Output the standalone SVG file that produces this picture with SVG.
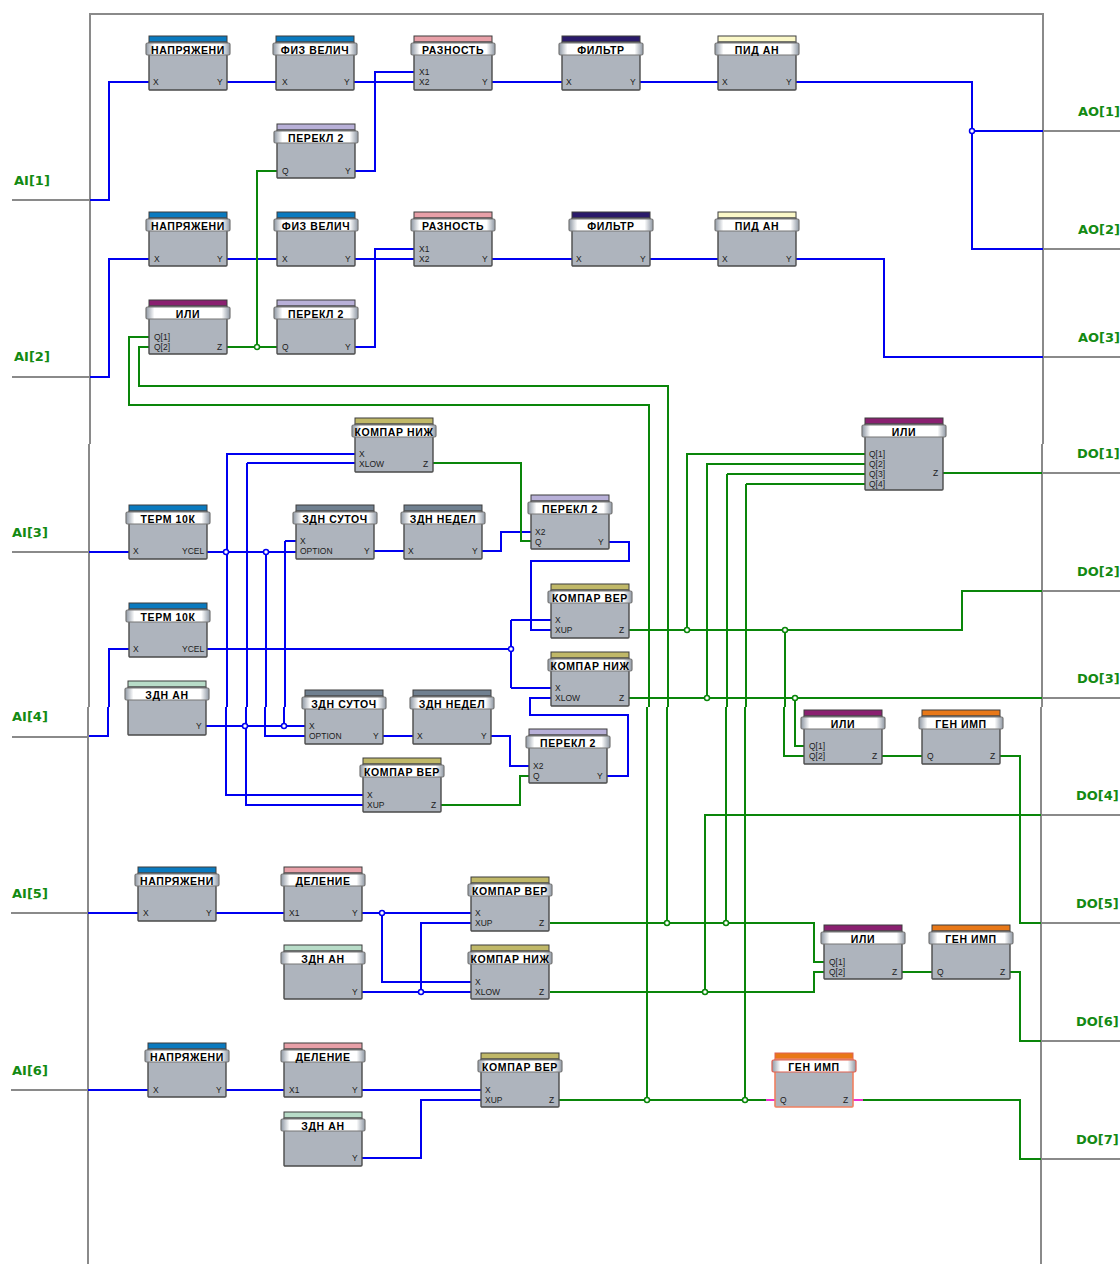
<svg xmlns="http://www.w3.org/2000/svg" width="1120" height="1264" viewBox="0 0 1120 1264">
<style>
.w{fill:none;stroke-width:2}
.b{stroke:#0000f0}.g{stroke:#0a860a}.f{stroke:#8a8a8a}.m{stroke:#f030d0}
.jb,.jg{fill:#fff;stroke-width:1.5}.jb{stroke:#0000f0}.jg{stroke:#0a860a}
g[transform]>rect{stroke:#3c3c3c;stroke-width:1}
.body{fill:#aeb4bd;stroke:#4a4a4a;stroke-width:1.4}
.band{fill:url(#bg);stroke:#777;stroke-width:1.2}
.t{font:bold 10.5px "Liberation Sans",Arial,sans-serif;text-anchor:middle;fill:#000;letter-spacing:.6px}
.p{font:8.5px "Liberation Sans",Arial,sans-serif;fill:#1c1c1c}
.l{font:bold 13px "DejaVu Sans",sans-serif;fill:#138a13}
.selbody{fill:#aeb4bd;stroke:#f08060;stroke-width:1.6}
</style>
<defs>
<linearGradient id="bg" x1="0" x2="1" y1="0" y2="0">
<stop offset="0" stop-color="#8e97a3"/><stop offset=".1" stop-color="#fff"/><stop offset=".9" stop-color="#fff"/><stop offset="1" stop-color="#8e97a3"/>
</linearGradient>
<g id="n">
<rect class="body" x="0" y="6" width="78" height="48" rx="1"/>
<rect class="band" x="-3" y="7" width="84" height="12" rx="1.5"/>
</g>
<g id="nt">
<rect class="body" x="0" y="6" width="78" height="66" rx="1"/>
<rect class="band" x="-3" y="7" width="84" height="12" rx="1.5"/>
</g>
<g id="ns">
<rect class="selbody" x="0" y="6" width="78" height="48" rx="1"/>
<rect class="band" x="-3" y="7" width="84" height="12" rx="1.5" style="stroke:#e06050"/>
</g>
</defs>
<g id="frame">
<path class="w f" d="M12 200H90M12 377H90M12 552H89M12 737H89M11 913H88M11 1090H88M1043 131H1120M1043 249H1120M1043 357H1120M1042 473H1120M1042 591H1120M1042 698H1120M1041 815H1120M1041 923H1120M1041 1041H1120M1041 1159H1120"/>
<path class="w f" d="M90 14H1043V444M90 13V444M89 444V707M88 707V1264M1042 444V707M1041 707V1264"/>
</g>
<g id="connectors">
<path class="w b" d="M90 200H109V82H149M227 82H276M354 82H414M354 171H375V72H414M492 82H562M640 82H718M796 82H972V249H1043M972 131H1043"/>
<path class="w b" d="M90 377H109V259H149M227 259H277M355 259H414M355 347H375V249H414M492 259H572M650 259H718M796 259H884V357H1043"/>
<path class="w b" d="M89 552H129M207 552H296M227 552V454H355M227 552V707M226 707V795H363M266 552V707M265 707V736H305M247 463H355M247 463V707M246 707V805H363M285 541H296M285 541V707M284 707V726M206 726H305M374 551H404M482 551H501V532H531M609 542H629V561H531V630H551M89 736H108V707M109 707V649H129M207 649H511M511 620V688M511 620H551M511 688H551M551 698H530V715H628V776H607M383 736H413M491 736H510V766H529"/>
<path class="w b" d="M88 913H138M216 913H284M362 913H471M382 913V982H471M362 992H471M421 992V923H471M88 1090H148M226 1090H284M362 1090H481M362 1158H421V1100H481"/>
<path class="w g" d="M277 171H257V347M227 347H277M149 337H129V405H649V707M647 707V1100M149 347H139V386H668V707M667 707V923"/>
<path class="w g" d="M433 463H521V541H531M441 805H520V776H529M629 630H962V591H1042M629 698H1042M943 473H1042M687 630V454H865M707 698V464H865M727 474H865M727 474V707M726 707V923M746 484H865M746 484V707M745 707V1100M785 630V707M784 707V756H804M795 698V746H804M705 992V815H1041M882 756H922M1000 756H1020V923H1041"/>
<path class="w g" d="M550 923H814V962H824M550 992H814V972H824M902 972H932M1010 972H1020V1041H1041M559 1100H766M863 1100H1020V1159H1041"/>
<path class="w m" d="M766 1100H775M853 1100H863"/>
<g class="jb"><circle cx="972" cy="131" r="2.5"/><circle cx="226" cy="552" r="2.5"/><circle cx="266" cy="552" r="2.5"/><circle cx="511" cy="649" r="2.5"/><circle cx="245" cy="726" r="2.5"/><circle cx="284" cy="726" r="2.5"/><circle cx="382" cy="913" r="2.5"/><circle cx="421" cy="992" r="2.5"/></g>
<g class="jg"><circle cx="257" cy="347" r="2.5"/><circle cx="687" cy="630" r="2.5"/><circle cx="785" cy="630" r="2.5"/><circle cx="707" cy="698" r="2.5"/><circle cx="795" cy="698" r="2.5"/><circle cx="667" cy="923" r="2.5"/><circle cx="726" cy="923" r="2.5"/><circle cx="705" cy="992" r="2.5"/><circle cx="647" cy="1100" r="2.5"/><circle cx="745" cy="1100" r="2.5"/></g>
</g>
<g id="labels">
<text class="l" x="14" y="185">AI[1]</text><text class="l" x="14" y="361">AI[2]</text><text class="l" x="12" y="537">AI[3]</text><text class="l" x="12" y="721">AI[4]</text><text class="l" x="12" y="898">AI[5]</text><text class="l" x="12" y="1075">AI[6]</text>
<text class="l" x="1078" y="116">AO[1]</text><text class="l" x="1078" y="234">AO[2]</text><text class="l" x="1078" y="342">AO[3]</text>
<text class="l" x="1077" y="458">DO[1]</text><text class="l" x="1077" y="576">DO[2]</text><text class="l" x="1077" y="683">DO[3]</text><text class="l" x="1076" y="800">DO[4]</text><text class="l" x="1076" y="908">DO[5]</text><text class="l" x="1076" y="1026">DO[6]</text><text class="l" x="1076" y="1144">DO[7]</text>
</g>
<g id="n1" transform="translate(149 36)"><rect width="78" height="10" fill="#0a7abf"/><use href="#n"/><text class="t" x="39" y="17.5">НАПРЯЖЕНИ</text><text class="p" x="4" y="49">X</text><text class="p" x="68" y="49">Y</text></g>
<g id="n2" transform="translate(276 36)"><rect width="78" height="10" fill="#0a7abf"/><use href="#n"/><text class="t" x="39" y="17.5">ФИЗ ВЕЛИЧ</text><text class="p" x="6" y="49">X</text><text class="p" x="68" y="49">Y</text></g>
<g id="n3" transform="translate(414 36)"><rect width="78" height="10" fill="#e8a0a8"/><use href="#n"/><text class="t" x="39" y="17.5">РАЗНОСТЬ</text><text class="p" x="5" y="39">X1</text><text class="p" x="5" y="49">X2</text><text class="p" x="68" y="49">Y</text></g>
<g id="n4" transform="translate(562 36)"><rect width="78" height="10" fill="#2a1a6a"/><use href="#n"/><text class="t" x="39" y="17.5">ФИЛЬТР</text><text class="p" x="4" y="49">X</text><text class="p" x="68" y="49">Y</text></g>
<g id="n5" transform="translate(718 36)"><rect width="78" height="10" fill="#fbf8c8"/><use href="#n"/><text class="t" x="39" y="17.5">ПИД АН</text><text class="p" x="4" y="49">X</text><text class="p" x="68" y="49">Y</text></g>
<g id="n6" transform="translate(277 124)"><rect width="78" height="10" fill="#b8b0d8"/><use href="#n"/><text class="t" x="39" y="17.5">ПЕРЕКЛ 2</text><text class="p" x="5" y="50">Q</text><text class="p" x="68" y="50">Y</text></g>
<g id="n7" transform="translate(149 212)"><rect width="78" height="10" fill="#0a7abf"/><use href="#n"/><text class="t" x="39" y="17.5">НАПРЯЖЕНИ</text><text class="p" x="5" y="50">X</text><text class="p" x="68" y="50">Y</text></g>
<g id="n8" transform="translate(277 212)"><rect width="78" height="10" fill="#0a7abf"/><use href="#n"/><text class="t" x="39" y="17.5">ФИЗ ВЕЛИЧ</text><text class="p" x="5" y="50">X</text><text class="p" x="68" y="50">Y</text></g>
<g id="n9" transform="translate(414 212)"><rect width="78" height="10" fill="#e8a0a8"/><use href="#n"/><text class="t" x="39" y="17.5">РАЗНОСТЬ</text><text class="p" x="5" y="40">X1</text><text class="p" x="5" y="50">X2</text><text class="p" x="68" y="50">Y</text></g>
<g id="n10" transform="translate(572 212)"><rect width="78" height="10" fill="#2a1a6a"/><use href="#n"/><text class="t" x="39" y="17.5">ФИЛЬТР</text><text class="p" x="4" y="50">X</text><text class="p" x="68" y="50">Y</text></g>
<g id="n11" transform="translate(718 212)"><rect width="78" height="10" fill="#fbf8c8"/><use href="#n"/><text class="t" x="39" y="17.5">ПИД АН</text><text class="p" x="4" y="50">X</text><text class="p" x="68" y="50">Y</text></g>
<g id="n12" transform="translate(149 300)"><rect width="78" height="10" fill="#8a2070"/><use href="#n"/><text class="t" x="39" y="17.5">ИЛИ</text><text class="p" x="5" y="40">Q[1]</text><text class="p" x="5" y="50">Q[2]</text><text class="p" x="68" y="50">Z</text></g>
<g id="n13" transform="translate(277 300)"><rect width="78" height="10" fill="#b8b0d8"/><use href="#n"/><text class="t" x="39" y="17.5">ПЕРЕКЛ 2</text><text class="p" x="5" y="50">Q</text><text class="p" x="68" y="50">Y</text></g>
<g id="n14" transform="translate(355 418)"><rect width="78" height="10" fill="#c0b868"/><use href="#n"/><text class="t" x="39" y="17.5">КОМПАР НИЖ</text><text class="p" x="4" y="39">X</text><text class="p" x="4" y="49">XLOW</text><text class="p" x="68" y="49">Z</text></g>
<g id="n15" transform="translate(129 505)"><rect width="78" height="10" fill="#0a7abf"/><use href="#n"/><text class="t" x="39" y="17.5">ТЕРМ 10К</text><text class="p" x="4" y="49">X</text><text class="p" x="53" y="49">YCEL</text></g>
<g id="n16" transform="translate(296 505)"><rect width="78" height="10" fill="#708090"/><use href="#n"/><text class="t" x="39" y="17.5">ЗДН СУТОЧ</text><text class="p" x="4" y="39">X</text><text class="p" x="4" y="49">OPTION</text><text class="p" x="68" y="49">Y</text></g>
<g id="n17" transform="translate(404 505)"><rect width="78" height="10" fill="#708090"/><use href="#n"/><text class="t" x="39" y="17.5">ЗДН НЕДЕЛ</text><text class="p" x="4" y="49">X</text><text class="p" x="68" y="49">Y</text></g>
<g id="n18" transform="translate(531 495)"><rect width="78" height="10" fill="#b8b0d8"/><use href="#n"/><text class="t" x="39" y="17.5">ПЕРЕКЛ 2</text><text class="p" x="4" y="40">X2</text><text class="p" x="4" y="50">Q</text><text class="p" x="67" y="50">Y</text></g>
<g id="n19" transform="translate(551 584)"><rect width="78" height="10" fill="#c0b868"/><use href="#n"/><text class="t" x="39" y="17.5">КОМПАР ВЕР</text><text class="p" x="4" y="39">X</text><text class="p" x="4" y="49">XUP</text><text class="p" x="68" y="49">Z</text></g>
<g id="n20" transform="translate(551 652)"><rect width="78" height="10" fill="#c0b868"/><use href="#n"/><text class="t" x="39" y="17.5">КОМПАР НИЖ</text><text class="p" x="4" y="39">X</text><text class="p" x="4" y="49">XLOW</text><text class="p" x="68" y="49">Z</text></g>
<g id="n21" transform="translate(865 418)"><rect width="78" height="10" fill="#8a2070"/><use href="#nt"/><text class="t" x="39" y="17.5">ИЛИ</text><text class="p" x="4" y="39">Q[1]</text><text class="p" x="4" y="49">Q[2]</text><text class="p" x="4" y="59">Q[3]</text><text class="p" x="4" y="69">Q[4]</text><text class="p" x="68" y="58">Z</text></g>
<g id="n22" transform="translate(129 603)"><rect width="78" height="10" fill="#0a7abf"/><use href="#n"/><text class="t" x="39" y="17.5">ТЕРМ 10К</text><text class="p" x="4" y="49">X</text><text class="p" x="53" y="49">YCEL</text></g>
<g id="n23" transform="translate(128 681)"><rect width="78" height="10" fill="#b8dcc8"/><use href="#n"/><text class="t" x="39" y="17.5">ЗДН АН</text><text class="p" x="68" y="48">Y</text></g>
<g id="n24" transform="translate(305 690)"><rect width="78" height="10" fill="#708090"/><use href="#n"/><text class="t" x="39" y="17.5">ЗДН СУТОЧ</text><text class="p" x="4" y="39">X</text><text class="p" x="4" y="49">OPTION</text><text class="p" x="68" y="49">Y</text></g>
<g id="n25" transform="translate(413 690)"><rect width="78" height="10" fill="#708090"/><use href="#n"/><text class="t" x="39" y="17.5">ЗДН НЕДЕЛ</text><text class="p" x="4" y="49">X</text><text class="p" x="68" y="49">Y</text></g>
<g id="n26" transform="translate(363 758)"><rect width="78" height="10" fill="#c0b868"/><use href="#n"/><text class="t" x="39" y="17.5">КОМПАР ВЕР</text><text class="p" x="4" y="40">X</text><text class="p" x="4" y="50">XUP</text><text class="p" x="68" y="50">Z</text></g>
<g id="n27" transform="translate(529 729)"><rect width="78" height="10" fill="#b8b0d8"/><use href="#n"/><text class="t" x="39" y="17.5">ПЕРЕКЛ 2</text><text class="p" x="4" y="40">X2</text><text class="p" x="4" y="50">Q</text><text class="p" x="68" y="50">Y</text></g>
<g id="n28" transform="translate(804 710)"><rect width="78" height="10" fill="#8a2070"/><use href="#n"/><text class="t" x="39" y="17.5">ИЛИ</text><text class="p" x="5" y="39">Q[1]</text><text class="p" x="5" y="49">Q[2]</text><text class="p" x="68" y="49">Z</text></g>
<g id="n29" transform="translate(922 710)"><rect width="78" height="10" fill="#e87818"/><use href="#n"/><text class="t" x="39" y="17.5">ГЕН ИМП</text><text class="p" x="5" y="49">Q</text><text class="p" x="68" y="49">Z</text></g>
<g id="n30" transform="translate(138 867)"><rect width="78" height="10" fill="#0a7abf"/><use href="#n"/><text class="t" x="39" y="17.5">НАПРЯЖЕНИ</text><text class="p" x="5" y="49">X</text><text class="p" x="68" y="49">Y</text></g>
<g id="n31" transform="translate(284 867)"><rect width="78" height="10" fill="#e8a0a8"/><use href="#n"/><text class="t" x="39" y="17.5">ДЕЛЕНИЕ</text><text class="p" x="5" y="49">X1</text><text class="p" x="68" y="49">Y</text></g>
<g id="n32" transform="translate(471 877)"><rect width="78" height="10" fill="#c0b868"/><use href="#n"/><text class="t" x="39" y="17.5">КОМПАР ВЕР</text><text class="p" x="4" y="39">X</text><text class="p" x="4" y="49">XUP</text><text class="p" x="68" y="49">Z</text></g>
<g id="n33" transform="translate(284 945)"><rect width="78" height="10" fill="#b8dcc8"/><use href="#n"/><text class="t" x="39" y="17.5">ЗДН АН</text><text class="p" x="68" y="50">Y</text></g>
<g id="n34" transform="translate(471 945)"><rect width="78" height="10" fill="#c0b868"/><use href="#n"/><text class="t" x="39" y="17.5">КОМПАР НИЖ</text><text class="p" x="4" y="40">X</text><text class="p" x="4" y="50">XLOW</text><text class="p" x="68" y="50">Z</text></g>
<g id="n35" transform="translate(824 925)"><rect width="78" height="10" fill="#8a2070"/><use href="#n"/><text class="t" x="39" y="17.5">ИЛИ</text><text class="p" x="5" y="40">Q[1]</text><text class="p" x="5" y="50">Q[2]</text><text class="p" x="68" y="50">Z</text></g>
<g id="n36" transform="translate(932 925)"><rect width="78" height="10" fill="#e87818"/><use href="#n"/><text class="t" x="39" y="17.5">ГЕН ИМП</text><text class="p" x="5" y="50">Q</text><text class="p" x="68" y="50">Z</text></g>
<g id="n37" transform="translate(148 1043)"><rect width="78" height="10" fill="#0a7abf"/><use href="#n"/><text class="t" x="39" y="17.5">НАПРЯЖЕНИ</text><text class="p" x="5" y="50">X</text><text class="p" x="68" y="50">Y</text></g>
<g id="n38" transform="translate(284 1043)"><rect width="78" height="10" fill="#e8a0a8"/><use href="#n"/><text class="t" x="39" y="17.5">ДЕЛЕНИЕ</text><text class="p" x="5" y="50">X1</text><text class="p" x="68" y="50">Y</text></g>
<g id="n39" transform="translate(481 1053)"><rect width="78" height="10" fill="#c0b868"/><use href="#n"/><text class="t" x="39" y="17.5">КОМПАР ВЕР</text><text class="p" x="4" y="40">X</text><text class="p" x="4" y="50">XUP</text><text class="p" x="68" y="50">Z</text></g>
<g id="n40" transform="translate(284 1112)"><rect width="78" height="10" fill="#b8dcc8"/><use href="#n"/><text class="t" x="39" y="17.5">ЗДН АН</text><text class="p" x="68" y="49">Y</text></g>
<g id="n41" transform="translate(775 1053)"><rect width="78" height="10" fill="#e87818" style="stroke:#e06050"/><use href="#ns"/><text class="t" x="39" y="17.5">ГЕН ИМП</text><text class="p" x="5" y="50">Q</text><text class="p" x="68" y="50">Z</text></g>
</svg>
